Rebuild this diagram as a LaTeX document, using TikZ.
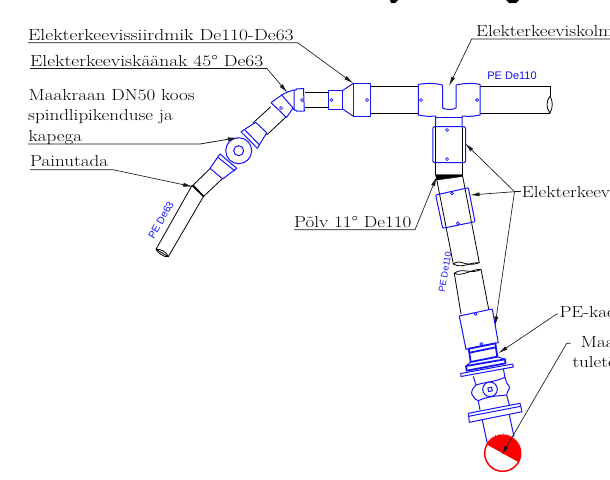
\documentclass[tikz,border=0pt]{standalone}
\usepackage{fontspec}
\usetikzlibrary{arrows.meta}
\newfontfamily\labfont[FakeStretch=1.19]{Latin Modern Roman}
\newfontfamily\pefont{Liberation Sans}
\definecolor{cadblue}{RGB}{20,20,245}
\definecolor{cadred}{RGB}{250,0,0}
\tikzset{
  lab/.style={anchor=base west,inner sep=0pt,font=\labfont\fontsize{16}{17}\selectfont,text=black},
  pe/.style={inner sep=0pt,text=cadblue,font=\pefont\fontsize{11}{13}\selectfont},
  leader/.style={draw=black!90,line width=0.65pt},
  tip/.style={leader,-{Latex[length=9.5pt,width=4pt]}},
  pipe/.style={draw=black,line width=0.8pt},
  fit/.style={draw=cadblue,line width=1pt,line join=round},
  heavy/.style={draw=cadblue,line width=1.8pt,line join=round},
  dot/.style={draw=cadblue,line width=0.7pt,fill=white},
  wedge/.style={fill=black,draw=black,line width=0.4pt}
}
\begin{document}
\begin{tikzpicture}[x=1pt,y=-1pt]
\useasboundingbox (0,0) rectangle (610,479);
\fill[white] (0,0) rectangle (610,479);
% cropped title remains
\fill[black] (390,0) -- (398,0) -- (395,3) -- (391,3) -- cycle;
\fill[black] (506,0) -- (519,0) -- (516,3) -- (509,3) -- cycle;

% ---- horizontal main
\draw[pipe] (480,86) -- (550,86) (480,113) -- (550,113);
\draw[pipe] (550,86) -- (550,96);
\draw[pipe] (550,96) .. controls (546,101) and (546,108) .. (550,113) .. controls (553,108) and (553,101) .. (550,96);
\draw[pipe] (370,86) -- (418,86) (370,113) -- (418,113);
\draw[pipe] (305,92) -- (328,92) (305,107) -- (328,107);
% reducer
\draw[fit] (353,83.5) rectangle (370,116);
\draw[fit] (328,90.5) rectangle (342.7,109);
\draw[fit] (342.7,90.5) -- (353,83.5) (342.7,109) -- (353,116);
\foreach \p in {(367,100),(331.5,100),(421,100),(477,100),(447,130),(447,159)}
  \draw[dot] \p circle (1.5pt);
% tee
\draw[fit] (442.5,85) .. controls (435,83) and (425,83) .. (418.3,84.5) -- (418.3,115) .. controls (425,116.5) and (430,116.5) .. (435.5,116) -- (435.5,127)
  (462,127) -- (462,116) .. controls (468,116.5) and (474,116.5) .. (480,115) -- (480,84.5) .. controls (474,83) and (465,83) .. (456,85);
\draw[fit] (442.5,85) -- (442.5,108) .. controls (447,110) and (452,110) .. (456,108) -- (456,85);
\draw[fit] (435.5,117.5) -- (462,117.5);
% vertical branch, upper socket
\draw[pipe] (435.5,127) -- (435.5,175) (462,127) -- (462,175);
\draw[fit,rounded corners=1.5pt] (432.8,126.7) rectangle (465.7,162.7);
\filldraw[wedge] (435.5,174.5) -- (462.3,174.5) -- (462.3,176.5) -- (436.7,180) -- cycle;
% lower inclined pipe
\draw[pipe] (436.7,179.5) -- (453.3,264) (462.5,175.5) -- (479.3,262.7);
\draw[pipe] (453.3,264) .. controls (460,258) and (466,268) .. (479.3,262.7);
\draw[pipe] (453.3,264) .. controls (462,269) and (470,262) .. (479.3,262.7);
\draw[pipe] (454.3,273.3) .. controls (462,267) and (472,275) .. (481,269.3);
\draw[pipe] (454.3,273.3) .. controls (462,277) and (472,269) .. (481,269.3);
\draw[pipe] (454.3,273.3) -- (461,314) (481,269.3) -- (488.7,309.3);
\draw[fit,rounded corners=0.8pt] (435.7,195) -- (468.3,187.7) -- (475,221.7) -- (442.7,228.3) -- cycle;
\draw[fit] (459.3,316) -- (492.3,309) -- (498.3,342.7) -- (466,349.3) -- cycle;
\foreach \p in {(452,193.3),(458,223.3),(475.7,314),(481.3,344)}
  \draw[dot] \p circle (1.5pt);
% heavy collar
\draw[heavy] (468.7,348.7) -- (495.3,343.3) -- (497.3,356.7) -- (470.7,362) -- cycle;
\draw[heavy] (469.5,352.7) -- (495.8,347.3);
% plate
\draw[heavy] (466,366) -- (505,359.3) -- (505.5,363.3) -- (466.7,370.7) -- cycle;
\draw[fit] (470.7,362) -- (466,366) (497.3,356.7) -- (505,359.3);
% upper flange
\draw[fit] (460.7,373.5) -- (512.7,364) -- (513.3,367) -- (461,376.5) -- cycle;
% valve body
\draw[fit] (473.3,376.5) -- (476,385) (503.3,368.7) -- (505,377.3);
\draw[fit] (476,385) .. controls (472,389) and (470,393) .. (473,396) .. controls (475,399) and (476,400) .. (478.3,400.7)
  .. controls (488,396) and (498,396) .. (506.7,395) .. controls (507,390) and (511,389) .. (509,386) .. controls (506,383) and (506,380) .. (505,377.3)
  .. controls (495,382) and (485,382) .. (476,385) -- cycle;
\draw[fit] (490,389.3) circle (7.3pt);
\draw[fit] (487.8,388) -- (491.5,387.2) -- (492.3,390.8) -- (488.6,391.6) -- cycle;
\draw[fit] (478.3,400.7) -- (480,410) (506.7,395) -- (509.3,405);
% lower flange
\draw[fit] (468.3,413.3) -- (520,403.3) -- (522,411.7) -- (469.3,422.3) -- cycle;
\draw[fit] (468.7,416.3) -- (520.7,406.3);
\draw[fit] (482.3,420) -- (487.3,443.3) (509.3,415) -- (514,436.7);
% red end
\fill[cadred] (502.7,453.3) ++(-29:18pt) arc[start angle=-29,end angle=151,radius=18pt] -- cycle;
\foreach \a in {64,72,80,88,96,104,112,120,128,136,144}
  \draw[cadred,line width=0.5pt] (502.7,453.3) ++(\a:18pt) -- ++(\a:1.6pt);
\draw[cadred,line width=1.5pt] (502.7,453.3) circle (18pt);

% ---- 45 degree branch
\draw[pipe] (270.7,106.7) -- (253,123) (286,117) -- (266.7,135);
\draw[pipe] (210.7,168) -- (191.7,186.5) (221.7,179.3) -- (203.3,196.7);
\draw[pipe] (191.7,186) -- (156,249.3) (203.3,196.7) -- (168.3,256.7);
\draw[pipe] (156,249.3) -- (168.3,256.7);
\draw[pipe] (156,249.3) .. controls (158,253) and (164,257.5) .. (168.3,256.7) .. controls (167,252) and (160,248.5) .. (156,249.3);
\filldraw[wedge] (191.5,185.5) -- (194,185.5) -- (204,196) -- (203.5,197) -- cycle;
% elbow
\draw[fit] (294,90) -- (296,90) -- (296,89) -- (303.5,88.5) -- (304.3,111) -- (296,111) -- (296,110) -- (294,110) -- cycle;
\draw[fit] (271,102.7) -- (281.7,95) -- (293,108) -- (286.7,117.3) -- (284.5,116) -- (283,114) -- cycle;
\draw[fit] (281.7,95) .. controls (285,93) and (290,91) .. (294,90);
\draw[fit] (293,108) -- (294,110);
\draw[dot] (281,108) circle (1.5pt);
\draw[dot] (302,100) circle (1.5pt);
% ball valve
\draw[fit,fill=white] (241,131.7) -- (255.7,122.3) -- (266.7,132.7) -- (257.3,148.3) -- cycle;
\draw[fit,fill=white] (220,154) -- (210,168.3) -- (222.7,179) -- (236.7,168.3) -- cycle;
\draw[fit] (245,130) -- (259.5,145);
\draw[fit] (217.5,157) -- (235,171);
\draw[fit,fill=white] (238.7,150.7) circle (13pt);
\draw[fit] (238.7,150.7) circle (5pt);

% ---- labels
\node[lab,xscale=1.025] (siird) at (28,40.7) {Elekterkeevissiirdmik De110-De63};
\node[lab,xscale=1.02] (kaan) at (30,66) {Elekterkeeviskäänak 45° De63};
\node[lab] (kraan1) at (28.5,100) {Maakraan DN50 koos};
\node[lab] (kraan2) at (28,120.7) {spindlipikenduse ja};
\node[lab] (kraan3) at (28.5,141) {kapega};
\node[lab] (painu) at (30,166.7) {Painutada};
\node[lab] (polv) at (294,227.3) {Põlv 11° De110};
\node[lab] (kolm) at (476,36.7) {Elekterkeeviskolm};
\node[lab] (keev) at (521.7,197) {Elekterkeev};
\node[lab] (kae) at (559.3,317.3) {PE-kae};
\node[lab] (maa) at (580.7,347.3) {Maa};
\node[lab] (tul) at (572.3,367.7) {tuletõ};
\node[pe] (pe1) at (512,75.5) {PE De110};
\node[pe,rotate=60,font=\pefont\fontsize{10.2}{12}\selectfont] (pe2) at (161,220) {PE De63};
\node[pe,rotate=80,font=\pefont\fontsize{9}{11}\selectfont] (pe3) at (445,272) {PE De110};

% ---- leaders
\coordinate (a1) at (28,42.7); \coordinate (a2) at (297.7,42.7); \coordinate (a3) at (353.3,83.3);
\draw[tip] (a1) -- (a2) -- (a3);
\coordinate (b1) at (30,68.5); \coordinate (b2) at (267,68.5); \coordinate (b3) at (287.3,92.7);
\draw[tip] (b1) -- (b2) -- (b3);
\coordinate (c1) at (28,144); \coordinate (c2) at (200,144); \coordinate (c3) at (237.3,137.7);
\draw[tip,line width=0.8pt] (c1) -- (c2) -- (c3);
\coordinate (d1) at (30,169.7); \coordinate (d2) at (113,169.7); \coordinate (d3) at (192.7,186.7);
\draw[tip] (d1) -- (d2) -- (d3);
\coordinate (e1) at (294,229.7); \coordinate (e2) at (415,229.7); \coordinate (e3) at (436.7,176.7);
\draw[tip] (e1) -- (e2) -- (e3);
\coordinate (f1) at (610,39); \coordinate (f2) at (471.7,39); \coordinate (f3) at (449,86);
\draw[tip] (f1) -- (f2) -- (f3);
\coordinate (g0) at (520.5,191.7); \coordinate (g1) at (514.5,191.7);
\coordinate (g2) at (465,143.3); \coordinate (g3) at (470,195); \coordinate (g4) at (495,326);
\draw[leader] (g0) -- (g1);
\draw[tip] (g1) -- (g2);
\draw[tip] (g1) -- (g3);
\draw[tip] (g1) -- (g4);
\coordinate (h1) at (558,314); \coordinate (h2) at (556.7,314); \coordinate (h3) at (498.3,353.3);
\draw[tip] (h1) -- (h2) -- (h3);
\coordinate (i1) at (570.5,343.3); \coordinate (i2) at (566.7,343.3); \coordinate (i3) at (501.7,455);
\draw[tip] (i1) -- (i2) -- (i3);
\end{tikzpicture}
\end{document}
